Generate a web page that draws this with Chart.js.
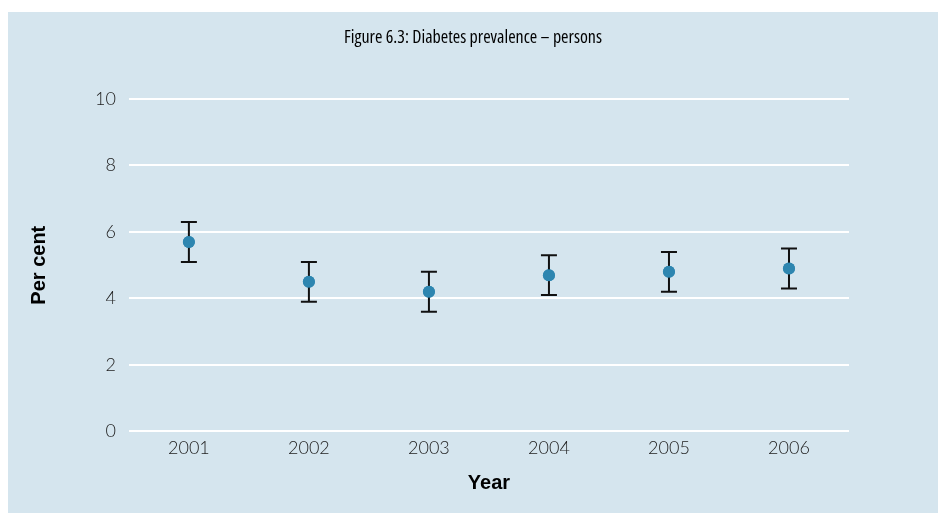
<!DOCTYPE html>
<html>
<head>
<meta charset="utf-8">
<script src="https://cdn.jsdelivr.net/npm/chart.js@4/dist/chart.umd.min.js"></script>
<style>
  html, body { margin: 0; padding: 0; background: #fff; }
  canvas { display: block; }
</style>
</head>
<body>
<canvas id="chart" width="938" height="513"></canvas>
<script>
// --- DONNEES ---
const years = ['2001', '2002', '2003', '2004', '2005', '2006'];
const prevalence = [5.7, 4.5, 4.2, 4.7, 4.8, 4.9];
const lowerCI = [5.1, 3.9, 3.6, 4.1, 4.2, 4.3];
const upperCI = [6.3, 5.1, 4.8, 5.3, 5.4, 5.5];
const yTicks = [0, 2, 4, 6, 8, 10];
const chartTitle = 'Figure 6.3: Diabetes prevalence – persons';

// fond du panneau (bleu clair) + titre centré sur la page
const panelBg = {
    id: 'panelBg',
    beforeDraw(chart) {
        const ctx = chart.ctx;
        ctx.save();
        ctx.fillStyle = '#d5e5ee';
        ctx.fillRect(8, 12, chart.width - 8, chart.height - 12);
        ctx.fillStyle = '#000';
        ctx.font = '500 18px "Open Sans", sans-serif';
        if ('fontStretch' in ctx) ctx.fontStretch = 'condensed';
        ctx.textAlign = 'center';
        ctx.textBaseline = 'middle';
        ctx.fillText(chartTitle, (chart.width + 8) / 2, 38, 258);
        ctx.restore();
    }
};

// barres d'erreur (via les échelles)
const errorBars = {
    id: 'errorBars',
    afterDatasetsDraw(chart) {
        const ctx = chart.ctx;
        const x = chart.scales.x;
        const y = chart.scales.y;
        ctx.save();
        ctx.strokeStyle = '#111';
        ctx.lineWidth = 2;
        years.forEach((yr, i) => {
            const px = x.getPixelForValue(i);
            const top = y.getPixelForValue(upperCI[i]);
            const bot = y.getPixelForValue(lowerCI[i]);
            ctx.beginPath();
            ctx.moveTo(px, top); ctx.lineTo(px, bot);
            ctx.moveTo(px - 8, top); ctx.lineTo(px + 8, top);
            ctx.moveTo(px - 8, bot); ctx.lineTo(px + 8, bot);
            ctx.stroke();
        });
        ctx.restore();
        // redessiner les points au-dessus
        chart.getDatasetMeta(0).data.forEach(pt => pt.draw(ctx, chart.chartArea));
    }
};

const tickFont = { family: 'Lato', size: 18, weight: '300' };
const axisTitleFont = { family: 'Liberation Sans', size: 20, weight: 'bold' };

new Chart(document.getElementById('chart'), {
    type: 'line',
    data: {
        labels: years,
        datasets: [{
            data: prevalence,
            showLine: false,
            pointRadius: 6,
            pointHoverRadius: 6,
            pointBackgroundColor: '#2e86b0',
            pointBorderWidth: 0
        }]
    },
    options: {
        responsive: false,
        animation: false,
        layout: { padding: { top: 99, left: 23, right: 89, bottom: 14 } },
        plugins: {
            legend: { display: false },
            tooltip: { enabled: false },
            title: { display: false }
        },
        scales: {
            x: {
                offset: true,
                grid: { display: false },
                border: { display: false },
                ticks: { color: '#222', font: tickFont, padding: -2 },
                title: {
                    display: true, text: 'Year', color: '#000',
                    font: axisTitleFont,
                    padding: { top: 14 }
                }
            },
            y: {
                min: 0, max: 10,
                afterBuildTicks(axis) { axis.ticks = yTicks.map(v => ({ value: v })); },
                grid: { color: '#ffffff', lineWidth: 2, drawTicks: false },
                border: { display: false },
                ticks: { color: '#222', font: tickFont, padding: 13 },
                title: {
                    display: true, text: 'Per cent', color: '#000',
                    font: axisTitleFont,
                    padding: { bottom: 31 }
                }
            }
        }
    },
    plugins: [panelBg, errorBars]
});
</script>
</body>
</html>
